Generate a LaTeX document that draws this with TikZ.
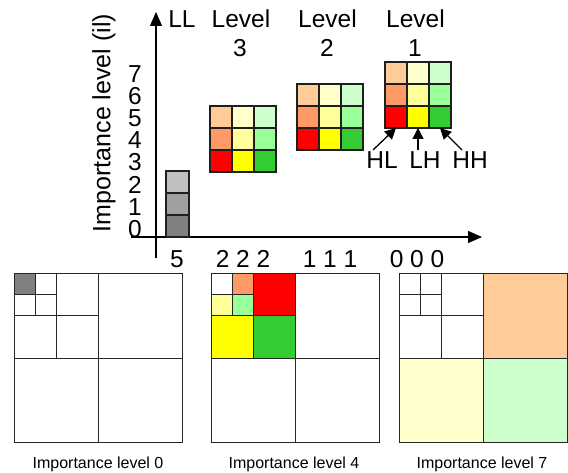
\documentclass[tikz,border=0pt]{standalone}
\usepackage{fontspec}
\setmainfont{Liberation Sans}
\usetikzlibrary{arrows.meta}
\definecolor{peach}{HTML}{FFCC99}
\definecolor{pyel}{HTML}{FFFFCC}
\definecolor{pgrn}{HTML}{CCFFCC}
\definecolor{orng}{HTML}{FF9966}
\definecolor{myel}{HTML}{FFFF99}
\definecolor{mgrn}{HTML}{99FF99}
\definecolor{dred}{HTML}{FF0000}
\definecolor{dyel}{HTML}{FFFF00}
\definecolor{dgrn}{HTML}{33CC33}
\definecolor{gA}{HTML}{C0C0C0}
\definecolor{gB}{HTML}{A0A0A0}
\definecolor{gC}{HTML}{808080}
\newcommand\wblock[2]{%
  \begin{scope}[shift={(#1,#2)}]
    \foreach \c/\r/\col in {0/0/peach,1/0/pyel,2/0/pgrn,0/1/orng,1/1/myel,2/1/mgrn,0/2/dred,1/2/dyel,2/2/dgrn}
      \fill[\col] (22*\c,22*\r) rectangle ++(22,22);
    \foreach \k in {0,22,44,66} {
      \draw[blockline] (\k,0) -- (\k,66);
      \draw[blockline] (0,\k) -- (66,\k);
    }
  \end{scope}}
\tikzset{
  blockline/.style={line width=1.3pt, black!88, line cap=rect},
  gridline/.style={line width=1pt, black!85, line cap=rect},
  big/.style={font=\fontsize{24.5}{28}\selectfont, inner sep=0pt},
  captext/.style={font=\fontsize{16}{18}\selectfont, inner sep=0pt, anchor=base},
  axisarrow/.style={line width=1.2pt, -{Triangle[length=14pt,width=12pt]}},
  pointer/.style={line width=1.3pt, -{Triangle[length=11pt,width=11pt]}},
  qgrid/.pic={
    \draw[gridline] (0,0) rectangle (168,168);
    \draw[gridline] (84,0) -- (84,168) (0,84) -- (168,84);
    \draw[gridline] (42,0) -- (42,84) (0,42) -- (84,42);
    \draw[gridline] (21,0) -- (21,42) (0,21) -- (42,21);
  }
}
\begin{document}
\begin{tikzpicture}[x=1pt,y=-1pt]
\useasboundingbox (0,0) rectangle (568,473);

% axes
\coordinate (ybot) at (156,258);
\coordinate (ytop) at (156,12);
\coordinate (xleft) at (131,237);
\coordinate (xright) at (482,237);
\draw[axisarrow] (ybot) -- (ytop);
\draw[axisarrow] (xleft) -- (xright);

% y label and ticks
\node[big, rotate=90, font=\fontsize{25}{28}\selectfont] (ylab) at (104,123) {Importance level (il)};
\foreach \d in {0,...,7}
  \node[big] (tick\d) at (135,{229-22.2*\d}) {\d};

% LL column
\fill[gA] (166,171) rectangle (189,193);
\fill[gB] (166,193) rectangle (189,215);
\fill[gC] (166,215) rectangle (189,237);
\draw[blockline] (166,171) rectangle (189,237);
\draw[blockline] (166,193) -- (189,193) (166,215) -- (189,215);

% level blocks
\wblock{210}{106}
\wblock{297}{84}
\wblock{385}{62}

% top labels
\node[big, anchor=base] (ll) at (182,28) {LL};
\node[big, anchor=base] (lv3) at (241,28) {Level};
\node[big, anchor=base] (n3) at (240,57) {3};
\node[big, anchor=base] (lv2) at (327.5,28) {Level};
\node[big, anchor=base] (n2) at (327,57) {2};
\node[big, anchor=base] (lv1) at (415.5,28) {Level};
\node[big, anchor=base] (n1) at (415,57) {1};

% subband labels and pointers
\node[big, anchor=base] (hl) at (382,169) {HL};
\node[big, anchor=base] (lh) at (425,169) {LH};
\node[big, anchor=base] (hh) at (470,169) {HH};
\coordinate (hls) at (373,150);
\coordinate (hle) at (396,128);
\coordinate (lhs) at (418,150);
\coordinate (lhe) at (418,128);
\coordinate (hhs) at (462,150);
\coordinate (hhe) at (440,128);
\draw[pointer] (hls) -- (hle);
\draw[pointer] (lhs) -- (lhe);
\draw[pointer] (hhs) -- (hhe);

% bottom numbers
\node[big, anchor=base] (b5) at (177,268) {5};
\node[big, anchor=base] (b2) at (243,268) {2 2 2};
\node[big, anchor=base] (b1) at (330,268) {1 1 1};
\node[big, anchor=base] (b0) at (417,268) {0 0 0};

% grid 1
\fill[gC] (14,274) rectangle (35,295);
\pic at (14,274) {qgrid};

% grid 2
\begin{scope}[shift={(211,274)}]
  \fill[dred] (42,0) rectangle (84,42);
  \fill[dgrn] (42,42) rectangle (84,84);
  \fill[dyel] (0,42) rectangle (42,84);
  \fill[orng] (21,0) rectangle (42,21);
  \fill[myel] (0,21) rectangle (21,42);
  \fill[mgrn] (21,21) rectangle (42,42);
\end{scope}
\pic at (211,274) {qgrid};

% grid 3
\begin{scope}[shift={(399,274)}]
  \fill[peach] (84,0) rectangle (168,84);
  \fill[pyel] (0,84) rectangle (84,168);
  \fill[pgrn] (84,84) rectangle (168,168);
\end{scope}
\pic at (399,274) {qgrid};

% captions
\node[captext] (c0) at (98,468) {Importance level 0};
\node[captext] (c4) at (294,468) {Importance level 4};
\node[captext] (c7) at (482,468) {Importance level 7};
\end{tikzpicture}
\end{document}
